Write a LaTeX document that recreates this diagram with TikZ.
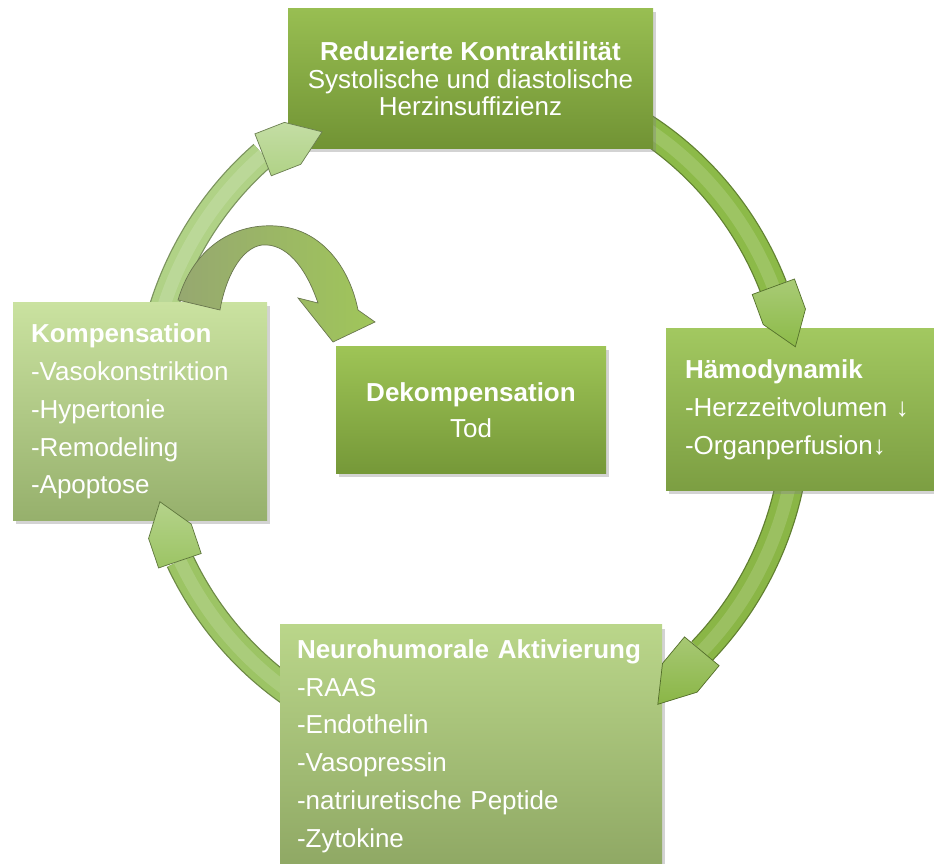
\documentclass[tikz,border=0pt]{standalone}
\usepackage{fontspec}
\setmainfont{Liberation Sans}
\usetikzlibrary{calc,shadows}

\definecolor{kontrtop}{RGB}{152,190,82}
\definecolor{kontrbot}{RGB}{113,147,52}
\definecolor{dekomptop}{RGB}{158,196,86}
\definecolor{dekompbot}{RGB}{117,152,56}
\definecolor{haemotop}{RGB}{162,200,96}
\definecolor{haemobot}{RGB}{124,158,66}
\definecolor{komptop}{RGB}{202,226,160}
\definecolor{kompbot}{RGB}{150,176,108}
\definecolor{neurotop}{RGB}{186,214,138}
\definecolor{neurobot}{RGB}{143,168,100}
\definecolor{ringA}{RGB}{176,210,134}
\definecolor{ringB}{RGB}{140,186,72}
\definecolor{ringC}{RGB}{138,182,70}
\definecolor{ringD}{RGB}{156,196,100}
\definecolor{arrowleft}{RGB}{150,168,112}
\definecolor{arrowright}{RGB}{160,198,90}

\begin{document}
\begin{tikzpicture}[
		box/.style={rectangle, inner sep=0pt, text=white,
			font=\fontsize{14.8}{21.5}\selectfont,
			drop shadow={shadow xshift=0.05cm, shadow yshift=-0.07cm, opacity=0.35}},
		listbox/.style={box, align=left},
		centerbox/.style={box, align=center},
		ringline/.style={line cap=butt},
		head/.style={line width=0.4pt, line join=miter}
	]

		% === figure bounds ===
		\useasboundingbox (0,0) rectangle (18.68,17.26);

		% === ellipse of the cycle ===
		\def\cx{9.44}	\def\cy{9.0}
		\def\rx{6.5}	\def\ry{6.74}
		\coordinate (c) at (\cx,\cy);

		% === ring segments (behind the boxes) ===
		\foreach \s/\e/\col in {175/130/ringA, 85/22/ringB, -5/-45/ringC, 250/206/ringD} {
			\draw[ringline, draw=\col!70!black, line width=0.58cm] ($(c)+(\s:\rx cm and \ry cm)$) arc[start angle=\s, end angle=\e, x radius=\rx, y radius=\ry];	% edge
			\draw[ringline, draw=\col, line width=0.53cm] ($(c)+(\s:\rx cm and \ry cm)$) arc[start angle=\s, end angle=\e, x radius=\rx, y radius=\ry];
			\draw[ringline, draw=\col!50!white, opacity=0.3, line width=0.26cm] ($(c)+(\s:\rx cm and \ry cm)$) arc[start angle=\s, end angle=\e, x radius=\rx, y radius=\ry];	% highlight
		}

		% === boxes ===
		\node[centerbox, top color=kontrtop, bottom color=kontrbot, minimum width=7.3cm, minimum height=2.8cm,
			font=\fontsize{14.8}{15.6}\selectfont] (kontr) at (9.41,15.68)
			{\textbf{Reduzierte Kontraktilität}\\Systolische und diastolische\\Herzinsuffizienz};
		\node[listbox, top color=haemotop, bottom color=haemobot, minimum height=3.24cm,
			text width=4.6cm, inner xsep=0.38cm] (haemo) at (16.0,9.06)
			{\textbf{Hämodynamik}\\-Herzzeitvolumen ↓\\-Organperfusion↓};
		\node[listbox, top color=neurotop, bottom color=neurobot, minimum height=4.84cm,
			text width=6.96cm, inner xsep=0.34cm] (neuro) at (9.42,2.34)
			{\textbf{Neurohumorale Aktivierung}\\-RAAS\\-Endothelin\\-Vasopressin\\-natriuretische Peptide\\-Zytokine};
		\node[listbox, top color=komptop, bottom color=kompbot, minimum height=4.36cm,
			text width=4.36cm, inner xsep=0.36cm] (komp) at (2.8,9.03)
			{\textbf{Kompensation}\\-Vasokonstriktion\\-Hypertonie\\-Remodeling\\-Apoptose};
		\node[centerbox, top color=dekomptop, bottom color=dekompbot, minimum width=5.4cm, minimum height=2.54cm,
			font=\fontsize{14.8}{20.5}\selectfont] (dekomp) at (9.42,9.05)
			{\textbf{Dekompensation}\\Tod};

		% === curved arrow Kompensation -> Dekompensation ===
		\shadedraw[left color=arrowleft, right color=arrowright, draw=arrowleft!70!black, line width=0.4pt]
			(3.56,11.26) .. controls (3.9,12.4) and (4.8,12.86) .. (5.7,12.72)
			.. controls (6.5,12.58) and (7.0,11.86) .. (7.16,11.06)
			-- (7.5,10.82) -- (6.66,10.42) -- (5.96,11.3) -- (6.36,11.2)
			.. controls (6.1,11.96) and (5.7,12.4) .. (5.24,12.36)
			.. controls (4.8,12.3) and (4.5,11.66) .. (4.4,11.06) -- cycle;

		% === ring arrow heads (over the boxes) ===
		\foreach \ang/\vx/\vy/\col in {130/1.18/0.46/ringA, 22/0.44/-1.2/ringB, -45/-0.88/-1.06/ringC, 206/-0.4/1.18/ringD} {
			\coordinate (hb) at ($(c)+(\ang:\rx cm and \ry cm)$);	% back
			\coordinate (ht) at ($(hb)+(\vx,\vy)$);			% tip
			\coordinate (hs) at ($(hb)!0.5!(ht)$);			% shoulder
			\shadedraw[head, top color=\col!75!white, bottom color=\col, draw=\col!60!black]
				($(hb)!0.45cm!90:(ht)$) -- ($(hs)!0.45cm!90:(ht)$) -- (ht)
				-- ($(hs)!0.45cm!-90:(ht)$) -- ($(hb)!0.45cm!-90:(ht)$) -- cycle;
		}
	\end{tikzpicture}
\end{document}
